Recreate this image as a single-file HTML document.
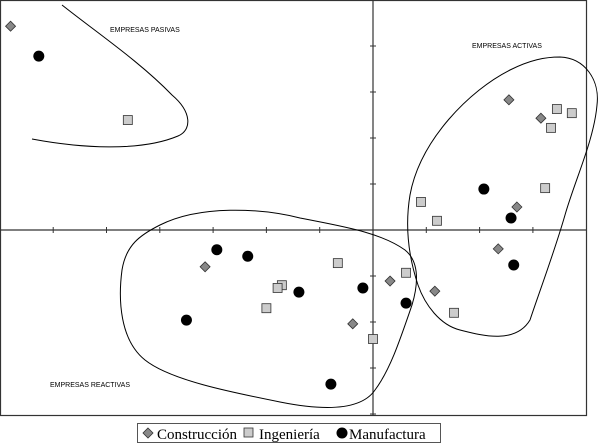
<!DOCTYPE html>
<html><head><meta charset="utf-8"><style>
body{margin:0;background:#fff;width:600px;height:443px;overflow:hidden}
svg{display:block}
</style></head><body>
<svg id="chart" width="600" height="443" viewBox="0 0 600 443" xmlns="http://www.w3.org/2000/svg">
<rect x="0.5" y="0.5" width="586" height="415" fill="#fff" stroke="#333" stroke-width="1.2"/>
<g id="axes"></g>
<path d="M62,5 C100,35 140,62 172,95 C192,112 192,130 178,136 C140,152 80,148 32,139" fill="none" stroke="#000" stroke-width="1"/>
<path d="M560,57 C585,58 600,80 597,105 C594,140 575,180 565,215 C555,250 540,290 530,320 C515,345 480,335 460,330 C440,325 425,305 418,285 C408,255 405,225 410,195 C420,140 470,90 510,70 C530,60 545,57 560,57 Z" fill="none" stroke="#000" stroke-width="1"/>
<path d="M160,225 C200,205 260,208 300,218 C340,226 380,232 405,250 C420,262 418,285 412,305 C400,340 390,370 375,390 C360,412 320,410 280,402 C230,392 170,380 145,360 C120,340 118,300 122,270 C126,245 140,235 160,225 Z" fill="none" stroke="#000" stroke-width="1"/>
<g id="marks"></g>
<text x="110" y="32" font-family="Liberation Sans, sans-serif" font-size="7">EMPRESAS PASIVAS</text>
<text x="472" y="48" font-family="Liberation Sans, sans-serif" font-size="7">EMPRESAS ACTIVAS</text>
<text x="50" y="387" font-family="Liberation Sans, sans-serif" font-size="7">EMPRESAS REACTIVAS</text>
<g>
<rect x="137.5" y="423.5" width="303" height="19" fill="#fff" stroke="#555"/>
<path d="M148,428 L153,433 L148,438 L143,433 Z" fill="#888" stroke="#333" stroke-width="0.8"/>
<text x="157" y="439" font-family="Liberation Serif, serif" font-size="15">Construcción</text>
<rect x="244" y="428" width="9" height="9" fill="#ccc" stroke="#333" stroke-width="0.8"/>
<text x="259" y="439" font-family="Liberation Serif, serif" font-size="15">Ingeniería</text>
<circle cx="342" cy="433" r="5.5" fill="#000"/>
<text x="349" y="439" font-family="Liberation Serif, serif" font-size="15">Manufactura</text>
</g>
</svg>
<script>
const xTicks=[-7,-6,-5,-4,-3,-2,-1,0,1,2,3];
const yTicks=[-4,-3,-2,-1,0,1,2,3,4];
const conX=[-6.8,2.55,3.15,2.7,2.35,1.16,0.32,-0.38,-3.15];
const conY=[4.43,2.83,2.43,0.5,-0.41,-1.33,-1.11,-2.04,-0.8];
const ingX=[-4.6,3.45,3.73,3.34,3.23,0.9,1.2,-0.66,0.62,-1.71,-1.79,-2.0,1.52,0];
const ingY=[2.39,2.63,2.54,2.22,0.91,0.61,0.2,-0.72,-0.93,-1.2,-1.26,-1.7,-1.8,-2.37];
const manX=[-6.27,2.08,2.59,2.64,-2.93,-2.35,-1.39,-0.19,0.62,-3.5,-0.79];
const manY=[3.78,0.89,0.26,-0.76,-0.43,-0.57,-1.35,-1.26,-1.59,-1.96,-3.35];
const X0=373,Y0=230,SX=53.3,SY=46;
const sx=v=>X0+v*SX, sy=v=>Y0-v*SY;
const NS="http://www.w3.org/2000/svg";
const axes=document.getElementById('axes'), marks=document.getElementById('marks');
function mk(tag,attrs,parent){const e=document.createElementNS(NS,tag);for(const k in attrs)e.setAttribute(k,attrs[k]);parent.appendChild(e);return e;}
let l=mk('line',{x1:0,x2:586,y1:Y0,y2:Y0,stroke:'#333','stroke-width':1.2},axes);


l=mk('line',{x1:X0,x2:X0,y1:0,y2:416,stroke:'#333','stroke-width':1.2},axes);


xTicks.forEach(t=>{const e=mk('line',{x1:sx(t),x2:sx(t),y1:Y0-3,y2:Y0+3,stroke:'#333'},axes);

});
yTicks.forEach(t=>{const e=mk('line',{x1:X0-3,x2:X0+3,y1:sy(t),y2:sy(t),stroke:'#333'},axes);

});
conX.forEach((v,i)=>{const x=sx(v),y=sy(conY[i]);const e=mk('path',{d:`M${x},${y-5} L${x+5},${y} L${x},${y+5} L${x-5},${y} Z`,fill:'#888',stroke:'#333','stroke-width':0.8},marks);

});
ingX.forEach((v,i)=>{const x=sx(v),y=sy(ingY[i]);const e=mk('rect',{x:x-4.5,y:y-4.5,width:9,height:9,fill:'#ccc',stroke:'#333','stroke-width':0.8},marks);

});
manX.forEach((v,i)=>{const e=mk('circle',{cx:sx(v),cy:sy(manY[i]),r:5.5,fill:'#000'},marks);

});
</script>
</body></html>
